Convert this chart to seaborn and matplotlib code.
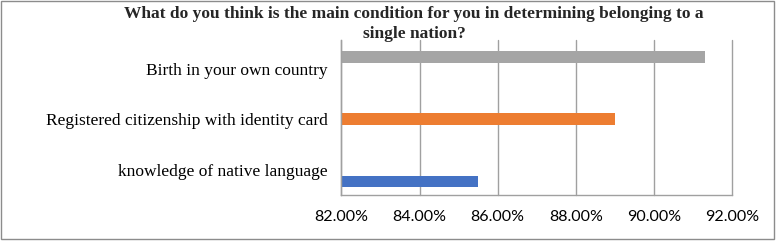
import matplotlib
matplotlib.use("Agg")
import matplotlib.pyplot as plt
import seaborn as sns
import pandas as pd
import numpy as np
from matplotlib.ticker import FuncFormatter, MultipleLocator
from matplotlib.patches import Rectangle

categories = ["Birth in your own country",
              "Registered citizenship with identity card",
              "knowledge of native language"]
values = [91.3, 89.0, 85.5]
colors = ["#A5A5A5", "#ED7D31", "#4472C4"]
title = "What do you think is the main condition for you in determining belonging to a\nsingle nation?"

df = pd.DataFrame({"condition": categories, "pct": values})

sns.set_theme(style="white")
plt.rcParams['font.family'] = ['Liberation Serif', 'DejaVu Sans']

fig = plt.figure(figsize=(7.77, 2.42), dpi=100)
ax = fig.add_axes([0.4393, 0.194, 0.9425 - 0.4393, 0.835 - 0.194])

sns.barplot(data=df, y="condition", x="pct", hue="condition",
            order=categories, hue_order=categories,
            palette=colors, dodge=True, width=0.69, orient="h",
            legend=False, ax=ax, saturation=1, linewidth=0)

ax.set_xlim(82, 92)
ax.set_ylim(2.5, -0.57)
ax.xaxis.set_major_locator(MultipleLocator(2))
ax.xaxis.set_major_formatter(FuncFormatter(lambda v, p: f"{v:.2f}%"))
ax.grid(axis="x", color="#A0A0A0", linewidth=1)
for gl in ax.get_xgridlines():
    gl.set_clip_on(False)
ax.set_axisbelow(True)
ax.set_xlabel("")
ax.set_ylabel("")
for s in ["top", "right"]:
    ax.spines[s].set_visible(False)
for s in ["left", "bottom"]:
    ax.spines[s].set_color("#A0A0A0")
    ax.spines[s].set_linewidth(1)
ax.tick_params(axis="x", length=0, pad=11, labelsize=11.5, colors="black")
ax.tick_params(axis="y", length=0, pad=10, labelsize=12.5, colors="black")
for lbl in ax.get_xticklabels():
    lbl.set_fontfamily(["Lato", "DejaVu Sans"])

fig.text(0.533, 0.975, title, ha="center", va="top", fontsize=12.5,
         fontweight="bold", linespacing=1.35)

fig.patches.append(Rectangle((0.0015, 0.012), 0.995, 0.984, transform=fig.transFigure,
                             fill=False, edgecolor="#8C8C8C", linewidth=1))

fig.savefig("out.png", dpi=100)
